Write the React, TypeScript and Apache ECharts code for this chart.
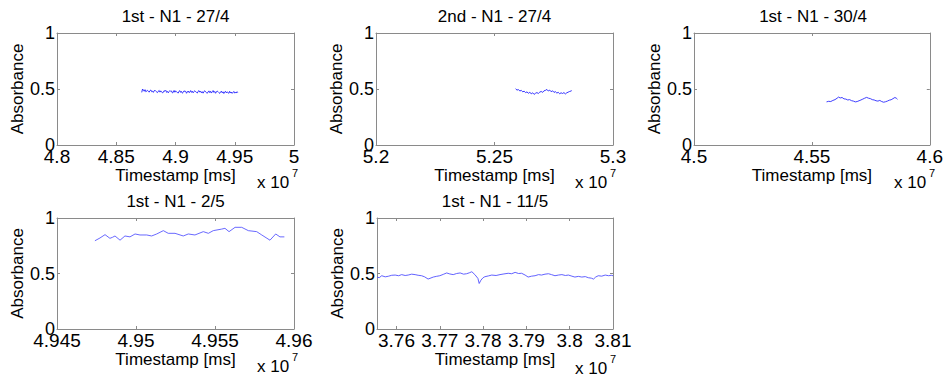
import React, { useEffect, useRef } from "react";
import * as echarts from "echarts";

// ---------- DATA (timestamps in units of 10^7 ms) ----------
const titles = [
  "1st - N1 - 27/4",
  "2nd - N1 - 27/4",
  "1st - N1 - 30/4",
  "1st - N1 - 2/5",
  "1st - N1 - 11/5",
];
const xAxisName = "Timestamp [ms]";
const yAxisName = "Absorbance";

const xRanges: [number, number][] = [
  [4.8, 5.0],
  [5.2, 5.3],
  [4.5, 4.6],
  [4.945, 4.96],
  [3.7555, 3.81],
];
const xTickValues: number[][] = [
  [4.8, 4.85, 4.9, 4.95, 5.0],
  [5.2, 5.25, 5.3],
  [4.5, 4.55, 4.6],
  [4.945, 4.95, 4.955, 4.96],
  [3.76, 3.77, 3.78, 3.79, 3.8, 3.81],
];
const yTickValues = [0, 0.5, 1];

const series1: [number, number][] = [
  [4.8715, 0.470], [4.8722, 0.500], [4.8729, 0.490], [4.8736, 0.480], [4.8743, 0.494],
  [4.8750, 0.475], [4.8757, 0.482], [4.8764, 0.488], [4.8771, 0.478], [4.8778, 0.472],
  [4.8785, 0.486], [4.8792, 0.491], [4.8799, 0.476], [4.8806, 0.480], [4.8813, 0.470],
  [4.8820, 0.484], [4.8827, 0.489], [4.8834, 0.480], [4.8841, 0.474], [4.8848, 0.468],
  [4.8855, 0.480], [4.8862, 0.487], [4.8869, 0.472], [4.8876, 0.483], [4.8883, 0.476],
  [4.8890, 0.466], [4.8897, 0.470], [4.8904, 0.485], [4.8911, 0.480], [4.8918, 0.488],
  [4.8925, 0.470], [4.8932, 0.478], [4.8939, 0.466], [4.8946, 0.477], [4.8953, 0.486],
  [4.8960, 0.478], [4.8967, 0.482], [4.8974, 0.465], [4.8981, 0.470], [4.8988, 0.487],
  [4.8995, 0.471], [4.9002, 0.483], [4.9009, 0.476], [4.9016, 0.468], [4.9023, 0.464],
  [4.9030, 0.480], [4.9037, 0.485], [4.9044, 0.470], [4.9051, 0.478], [4.9058, 0.463],
  [4.9065, 0.470], [4.9072, 0.484], [4.9079, 0.478], [4.9086, 0.479], [4.9093, 0.462],
  [4.9100, 0.474], [4.9107, 0.482], [4.9114, 0.468], [4.9121, 0.472], [4.9128, 0.486],
  [4.9135, 0.470], [4.9142, 0.480], [4.9149, 0.466], [4.9156, 0.478], [4.9163, 0.484],
  [4.9170, 0.476], [4.9177, 0.470], [4.9184, 0.464], [4.9191, 0.479], [4.9198, 0.486],
  [4.9205, 0.472], [4.9212, 0.480], [4.9219, 0.466], [4.9226, 0.476], [4.9233, 0.463],
  [4.9240, 0.478], [4.9247, 0.484], [4.9254, 0.474], [4.9261, 0.468], [4.9268, 0.462],
  [4.9275, 0.474], [4.9282, 0.483], [4.9289, 0.468], [4.9296, 0.479], [4.9303, 0.464],
  [4.9310, 0.476], [4.9317, 0.486], [4.9324, 0.470], [4.9331, 0.478], [4.9338, 0.462],
  [4.9345, 0.474], [4.9352, 0.482], [4.9359, 0.476], [4.9366, 0.468], [4.9373, 0.461],
  [4.9380, 0.472], [4.9387, 0.481], [4.9394, 0.466], [4.9401, 0.475], [4.9408, 0.460],
  [4.9415, 0.472], [4.9422, 0.480], [4.9429, 0.465], [4.9436, 0.474], [4.9443, 0.468],
  [4.9450, 0.462], [4.9457, 0.479], [4.9464, 0.464], [4.9471, 0.473], [4.9478, 0.461],
  [4.9485, 0.470], [4.9492, 0.478], [4.9499, 0.463], [4.9506, 0.472], [4.9513, 0.464],
  [4.9520, 0.476], [4.9525, 0.468],
];

const series2: [number, number][] = [
  [5.2589, 0.502], [5.2595, 0.490], [5.2601, 0.495], [5.2607, 0.482], [5.2613, 0.488],
  [5.2619, 0.475], [5.2625, 0.480], [5.2631, 0.468], [5.2637, 0.474], [5.2643, 0.462],
  [5.2649, 0.470], [5.2655, 0.458], [5.2661, 0.466], [5.2667, 0.452], [5.2673, 0.462],
  [5.2679, 0.468], [5.2685, 0.460], [5.2691, 0.472], [5.2697, 0.478], [5.2703, 0.470],
  [5.2709, 0.484], [5.2715, 0.488], [5.2721, 0.496], [5.2727, 0.482], [5.2733, 0.490],
  [5.2739, 0.476], [5.2745, 0.484], [5.2751, 0.470], [5.2757, 0.476], [5.2763, 0.464],
  [5.2769, 0.470], [5.2775, 0.458], [5.2781, 0.466], [5.2787, 0.460], [5.2793, 0.468],
  [5.2799, 0.456], [5.2805, 0.466], [5.2811, 0.472], [5.2817, 0.478], [5.2823, 0.482],
  [5.2826, 0.486],
];

const series3: [number, number][] = [
  [4.5562, 0.385], [4.5571, 0.390], [4.5580, 0.388], [4.5589, 0.398], [4.5598, 0.405],
  [4.5607, 0.418], [4.5613, 0.428], [4.5620, 0.420], [4.5628, 0.424], [4.5636, 0.412],
  [4.5644, 0.410], [4.5652, 0.402], [4.5660, 0.405], [4.5668, 0.396], [4.5676, 0.392],
  [4.5684, 0.385], [4.5692, 0.388], [4.5700, 0.395], [4.5708, 0.402], [4.5716, 0.410],
  [4.5724, 0.418], [4.5732, 0.425], [4.5740, 0.418], [4.5748, 0.414], [4.5756, 0.405],
  [4.5764, 0.402], [4.5772, 0.395], [4.5780, 0.392], [4.5788, 0.398], [4.5796, 0.388],
  [4.5804, 0.382], [4.5812, 0.386], [4.5820, 0.392], [4.5828, 0.400], [4.5836, 0.404],
  [4.5844, 0.414], [4.5852, 0.424], [4.5858, 0.418], [4.5863, 0.408],
];

const series4: [number, number][] = [
  [4.94740, 0.795], [4.94772, 0.820], [4.94804, 0.850], [4.94835, 0.817], [4.94851, 0.826],
  [4.94867, 0.838], [4.94899, 0.800], [4.94930, 0.838], [4.94962, 0.830], [4.94994, 0.856],
  [4.95025, 0.847], [4.95068, 0.847], [4.95099, 0.838], [4.95131, 0.856], [4.95173, 0.886],
  [4.95204, 0.862], [4.95247, 0.862], [4.95299, 0.838], [4.95331, 0.856], [4.95373, 0.847],
  [4.95426, 0.877], [4.95458, 0.862], [4.95489, 0.886], [4.95542, 0.900], [4.95563, 0.907],
  [4.95589, 0.877], [4.95627, 0.916], [4.95669, 0.916], [4.95711, 0.886], [4.95764, 0.877],
  [4.95796, 0.847], [4.95848, 0.800], [4.95884, 0.856], [4.95911, 0.830], [4.95939, 0.830],
];

const series5: [number, number][] = [
  [3.7555, 0.468], [3.7560, 0.462], [3.7566, 0.480], [3.7574, 0.470], [3.7581, 0.475],
  [3.7589, 0.484], [3.7597, 0.486], [3.7605, 0.480], [3.7612, 0.490], [3.7620, 0.482],
  [3.7627, 0.486], [3.7635, 0.494], [3.7643, 0.490], [3.7650, 0.484], [3.7658, 0.480],
  [3.7665, 0.470], [3.7673, 0.450], [3.7685, 0.468], [3.7692, 0.474], [3.7700, 0.480],
  [3.7708, 0.492], [3.7716, 0.505], [3.7723, 0.496], [3.7731, 0.490], [3.7739, 0.500],
  [3.7747, 0.505], [3.7755, 0.494], [3.7762, 0.498], [3.7768, 0.506], [3.7774, 0.516],
  [3.7781, 0.490], [3.7788, 0.456], [3.7791, 0.410], [3.7795, 0.440], [3.7800, 0.462],
  [3.7804, 0.471], [3.7812, 0.478], [3.7820, 0.486], [3.7830, 0.482], [3.7839, 0.490],
  [3.7848, 0.496], [3.7858, 0.502], [3.7866, 0.498], [3.7874, 0.510], [3.7882, 0.500],
  [3.7889, 0.502], [3.7897, 0.486], [3.7904, 0.468], [3.7912, 0.476], [3.7920, 0.480],
  [3.7928, 0.490], [3.7935, 0.486], [3.7943, 0.494], [3.7951, 0.498], [3.7958, 0.490],
  [3.7966, 0.480], [3.7974, 0.486], [3.7982, 0.490], [3.7990, 0.482], [3.7997, 0.486],
  [3.8005, 0.476], [3.8012, 0.468], [3.8020, 0.474], [3.8028, 0.468], [3.8036, 0.472],
  [3.8043, 0.462], [3.8050, 0.458], [3.8055, 0.450], [3.8060, 0.468], [3.8066, 0.480],
  [3.8074, 0.476], [3.8082, 0.486], [3.8090, 0.480], [3.8096, 0.484], [3.8100, 0.480],
];

const allSeries = [series1, series2, series3, series4, series5];

// ---------- LAYOUT ----------
const grids = [
  { left: 57, top: 33, width: 237, height: 112 },
  { left: 376, top: 33, width: 237, height: 112 },
  { left: 694, top: 33, width: 238, height: 112 },
  { left: 57, top: 218, width: 237, height: 111 },
  { left: 377, top: 218, width: 236, height: 111 },
];
const exponentPos = [
  { x: 257, y: 182 },
  { x: 575, y: 182 },
  { x: 894, y: 182 },
  { x: 257, y: 366 },
  { x: 575, y: 368 },
];
const lineColors = ["#1f1fff", "#1f1fff", "#2a2aff", "#5858ff", "#5050ff"];

const FONT = "'Liberation Sans', Arial, Helvetica, sans-serif";
const AXIS_COLOR = "#8a8a8a";

const fmt = (v: number) => String(+(+v).toFixed(4));

export default function App() {
  const ref = useRef<HTMLDivElement>(null);
  useEffect(() => {
    document.body.style.margin = "0";
    if (!ref.current) return;
    const chart = echarts.init(ref.current, undefined, { renderer: "svg" });

    const xAxes: any[] = [];
    const yAxes: any[] = [];
    const series: any[] = [];
    const graphics: any[] = [];

    grids.forEach((g, i) => {
      const [xmin, xmax] = xRanges[i];
      const lineStyle = { color: AXIS_COLOR, width: 1 };
      xAxes.push({
        type: "value",
        gridIndex: i,
        position: "bottom",
        min: xmin,
        max: xmax,
        name: xAxisName,
        nameLocation: "middle",
        nameGap: i < 3 ? 21 : 19,
        nameTextStyle: { fontSize: 17, fontFamily: FONT, color: "#000" },
        axisLine: { show: true, lineStyle, onZero: false },
        axisTick: { show: true, inside: true, length: 3, lineStyle, customValues: xTickValues[i] },
        axisLabel: {
          show: true,
          margin: 2,
          fontSize: 19,
          fontFamily: FONT,
          color: "#000",
          customValues: xTickValues[i],
          formatter: (v: number) => fmt(v),
          hideOverlap: false,
        },
        splitLine: { show: false },
      });
      xAxes.push({
        type: "value",
        gridIndex: i,
        position: "top",
        min: xmin,
        max: xmax,
        axisLine: { show: true, lineStyle, onZero: false },
        axisTick: { show: true, inside: true, length: 3, lineStyle, customValues: xTickValues[i] },
        axisLabel: { show: false },
        splitLine: { show: false },
      });
      yAxes.push({
        type: "value",
        gridIndex: i,
        position: "left",
        min: 0,
        max: 1,
        name: yAxisName,
        nameLocation: "middle",
        nameGap: 29,
        nameTextStyle: { fontSize: 17, fontFamily: FONT, color: "#000" },
        axisLine: { show: true, lineStyle, onZero: false },
        axisTick: { show: true, inside: true, length: 3, lineStyle, customValues: yTickValues },
        axisLabel: {
          show: true,
          margin: 2,
          fontSize: 18,
          fontFamily: FONT,
          color: "#000",
          customValues: yTickValues,
          formatter: (v: number) => fmt(v),
          hideOverlap: false,
        },
        splitLine: { show: false },
      });
      yAxes.push({
        type: "value",
        gridIndex: i,
        position: "right",
        min: 0,
        max: 1,
        axisLine: { show: true, lineStyle, onZero: false },
        axisTick: { show: true, inside: true, length: 3, lineStyle, customValues: yTickValues },
        axisLabel: { show: false },
        splitLine: { show: false },
      });
      series.push({
        type: "line",
        xAxisIndex: 2 * i,
        yAxisIndex: 2 * i,
        data: allSeries[i],
        showSymbol: false,
        symbol: "none",
        lineStyle: { color: lineColors[i], width: 0.9 },
        silent: true,
      });
      graphics.push({
        type: "text",
        x: g.left + g.width / 2,
        y: i < 3 ? 16 : 201,
        style: {
          text: titles[i],
          fontSize: 17,
          fontFamily: FONT,
          fill: "#000",
          align: "center",
          verticalAlign: "middle",
        },
      });
      const e = exponentPos[i];
      graphics.push({
        type: "text",
        x: e.x,
        y: e.y,
        style: {
          text: "x 10",
          fontSize: 17,
          fontFamily: FONT,
          fill: "#000",
          align: "left",
          verticalAlign: "middle",
        },
      });
      graphics.push({
        type: "text",
        x: e.x + 35,
        y: e.y - 9,
        style: {
          text: "7",
          fontSize: 11,
          fontFamily: FONT,
          fill: "#000",
          align: "left",
          verticalAlign: "middle",
        },
      });
    });

    chart.setOption({
      animation: false,
      backgroundColor: "#ffffff",
      grid: grids.map((g) => ({ ...g, containLabel: false })),
      xAxis: xAxes,
      yAxis: yAxes,
      series,
      graphic: graphics,
    });
    return () => chart.dispose();
  }, []);
  return <div ref={ref} style={{ width: 946, height: 376 }} />;
}
